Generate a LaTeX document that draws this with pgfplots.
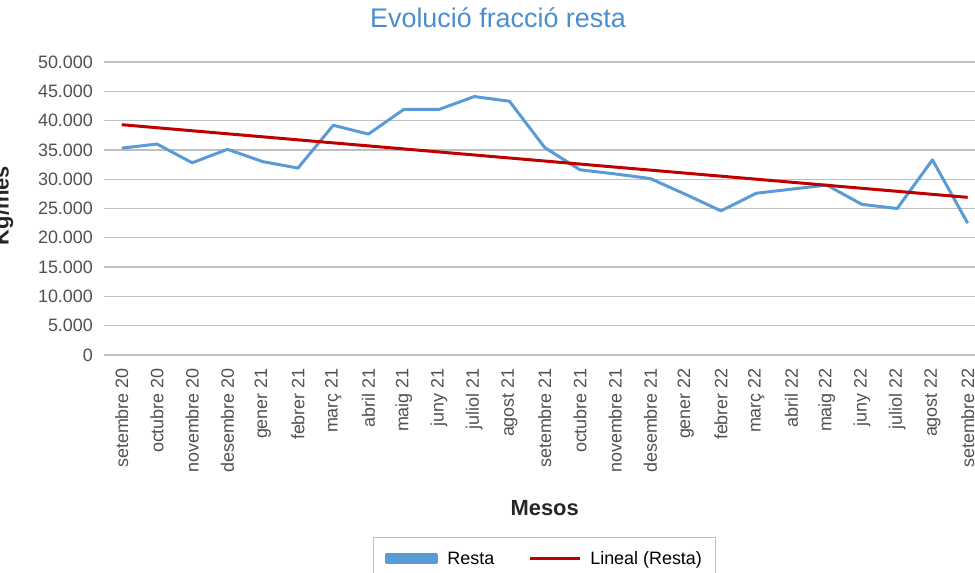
\documentclass[border=0pt]{standalone}
\usepackage{fontspec}
\setmainfont{Liberation Sans}
\usepackage{pgfplots}
\pgfplotsset{compat=1.18}
\definecolor{blueC}{HTML}{5B9BD5}
\definecolor{redC}{HTML}{C00000}
\definecolor{titleC}{HTML}{4A8ED2}
\definecolor{gridC}{HTML}{BFBFBF}
\definecolor{tickC}{HTML}{505050}
\begin{document}
\begin{tikzpicture}
\useasboundingbox (0,0) rectangle (975bp,573bp);
\node[font=\fontsize{27}{30}\selectfont, text=titleC, anchor=center] at (498bp,555bp) {Evolució fracció resta};
\begin{axis}[
  at={(104.1bp,218bp)}, anchor=south west,
  scale only axis, width=881.2bp, height=293bp,
  xmin=-0.5, xmax=24.5, ymin=0, ymax=50000,
  axis line style={draw=none},
  ytick={0,5000,...,50000},
  xtick={0,...,24},
  xticklabels={setembre 20,octubre 20,novembre 20,desembre 20,gener 21,febrer 21,març 21,abril 21,maig 21,juny 21,juliol 21,agost 21,setembre 21,octubre 21,novembre 21,desembre 21,gener 22,febrer 22,març 22,abril 22,maig 22,juny 22,juliol 22,agost 22,setembre 22},
  major tick length=0pt,
  ymajorgrids, grid style={draw=gridC, line width=1.3bp},
  scaled y ticks=false,
  /pgf/number format/assume math mode=true,
  yticklabel style={/pgf/number format/.cd, fixed, precision=0, 1000 sep={.}, /tikz/.cd, font=\fontsize{18}{20}\selectfont, text=tickC, anchor=east, inner sep=0pt, xshift=-11bp},
  xticklabel style={yshift=-13bp, rotate=90, anchor=east, inner sep=0pt, font=\fontsize{18}{20}\selectfont, text=tickC},
  xlabel={\textbf{Mesos}},
  x label style={at={(axis description cs:0.5,-0.522)}, anchor=center, font=\fontsize{22}{24}\selectfont, text=black!85},
  ylabel={\textbf{Kg/mes}},
  y label style={at={(axis description cs:-0.1147,0.51)}, anchor=center, font=\fontsize{22}{24}\selectfont, text=black!85},
  legend columns=2,
  legend style={at={(0.5,-0.695)}, anchor=center, draw=gridC, line width=1bp, font=\fontsize{18}{20}\selectfont, inner xsep=12bp, inner ysep=12bp,
    /tikz/every odd column/.append style={column sep=7bp},
    /tikz/every even column/.append style={column sep=32bp}},
  legend cell align=left,
]
\addplot[color=blueC, line width=3bp, line join=round,
  legend image code/.code={\fill[blueC] (0bp,-4bp) rectangle (50bp,4bp);}] coordinates {
(0,35300) (1,36000) (2,32800) (3,35100) (4,33000) (5,31900) (6,39200) (7,37700) (8,41900) (9,41900) (10,44100) (11,43300) (12,35400) (13,31600) (14,30900) (15,30100) (16,27400) (17,24600) (18,27600) (19,28300) (20,29000) (21,25700) (22,25000) (23,33300) (24,22500)
};
\addlegendentry{Resta}
\addplot[color=redC, line width=3bp,
  legend image code/.code={\draw[redC, line width=3bp] (0bp,0bp) -- (50bp,0bp);}] coordinates {
(0,39300) (24,26900)
};
\addlegendentry{Lineal (Resta)}
\end{axis}
\end{tikzpicture}
\end{document}
